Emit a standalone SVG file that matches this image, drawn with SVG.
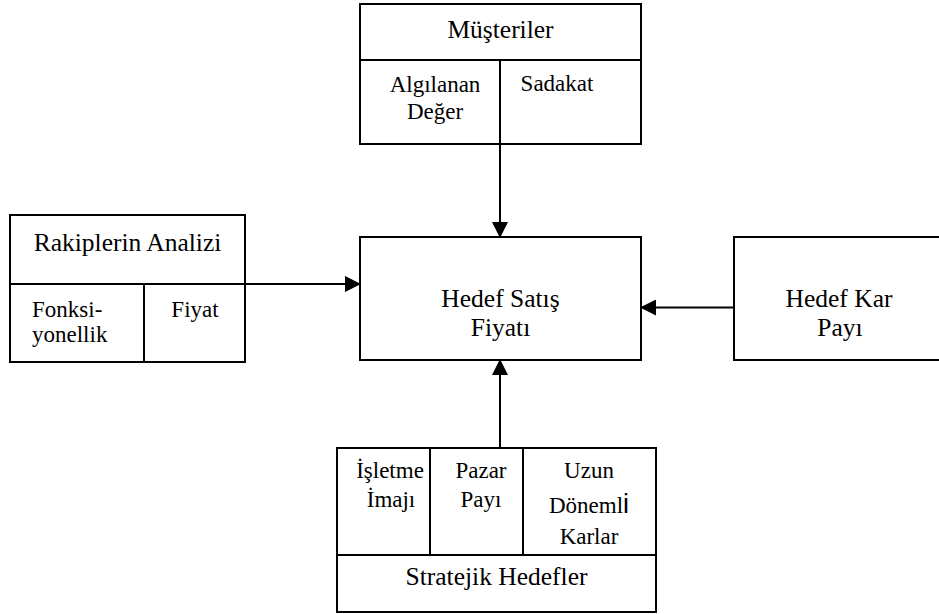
<svg xmlns="http://www.w3.org/2000/svg" width="939" height="614" viewBox="0 0 939 614">
  <style>
    .box { fill: #fff; stroke: #000; stroke-width: 2; }
    .div { fill: none; stroke: #000; stroke-width: 2; }
    .edge { fill: none; stroke: #000; stroke-width: 2; }
    text { font-family: 'Liberation Serif', 'Times New Roman', serif; fill: #000; }
    .t { font-size: 25.5px; text-anchor: middle; }
    .s { font-size: 23px; text-anchor: middle; }
    .l { font-size: 23px; text-anchor: start; }
    .big-i { font-family: 'Liberation Sans', Arial, sans-serif; font-size: 27px; }
  </style>
  <defs>
    <marker id="arrow" markerUnits="userSpaceOnUse" markerWidth="16" markerHeight="16" viewBox="0 0 16 16" refX="15" refY="8" orient="auto">
      <path d="M0,0 L16,8 L0,16 Z" fill="#000"/>
    </marker>
  </defs>
  <rect width="939" height="614" fill="#fff"/>

  <!-- Customers -->
  <g id="musteriler">
    <rect class="box" x="360" y="4" width="281" height="140"/>
    <line class="div" x1="360" y1="60" x2="641" y2="60"/>
    <line class="div" x1="500" y1="60" x2="500" y2="144"/>
    <text class="t" x="500.5" y="38">Müşteriler</text>
    <text class="s" x="435" y="92">Algılanan</text>
    <text class="s" x="435" y="119">Değer</text>
    <text class="s" x="557" y="91">Sadakat</text>
  </g>

  <!-- Competitor analysis -->
  <g id="rakipler">
    <rect class="box" x="10" y="215" width="235" height="147"/>
    <line class="div" x1="10" y1="284" x2="245" y2="284"/>
    <line class="div" x1="144" y1="284" x2="144" y2="362"/>
    <text class="t" x="127.5" y="251">Rakiplerin Analizi</text>
    <text class="l" x="32" y="317">Fonksi-</text>
    <text class="l" x="32" y="342">yonellik</text>
    <text class="s" x="195" y="317">Fiyat</text>
  </g>

  <!-- Target sales price -->
  <g id="hedef-satis">
    <rect class="box" x="360" y="237" width="281" height="123"/>
    <text class="t" x="500.5" y="307">Hedef Satış</text>
    <text class="t" x="500.5" y="336">Fiyatı</text>
  </g>

  <!-- Target profit margin -->
  <g id="hedef-kar">
    <rect class="box" x="734" y="237" width="240" height="123"/>
    <text class="t" x="839" y="307">Hedef Kar</text>
    <text class="t" x="840" y="336">Payı</text>
  </g>

  <!-- Strategic goals -->
  <g id="stratejik">
    <rect class="box" x="337" y="448" width="319" height="164"/>
    <line class="div" x1="337" y1="555" x2="656" y2="555"/>
    <line class="div" x1="430" y1="448" x2="430" y2="555"/>
    <line class="div" x1="523" y1="448" x2="523" y2="555"/>
    <text class="s" x="390" y="478">İşletme</text>
    <text class="s" x="391" y="507">İmajı</text>
    <text class="s" x="481" y="478">Pazar</text>
    <text class="s" x="481" y="507">Payı</text>
    <text class="s" x="589" y="478">Uzun</text>
    <text class="s" x="589" y="513">Döneml<tspan class="big-i">i</tspan></text>
    <text class="s" x="589" y="544">Karlar</text>
    <text class="t" x="496.5" y="585">Stratejik Hedefler</text>
  </g>

  <!-- Connectors -->
  <g id="connectors">
    <line class="edge" x1="500" y1="144" x2="500" y2="237" marker-end="url(#arrow)"/>
    <line class="edge" x1="245" y1="284" x2="360" y2="284" marker-end="url(#arrow)"/>
    <line class="edge" x1="734" y1="307.5" x2="641" y2="307.5" marker-end="url(#arrow)"/>
    <line class="edge" x1="500" y1="448" x2="500" y2="360" marker-end="url(#arrow)"/>
  </g>
</svg>
